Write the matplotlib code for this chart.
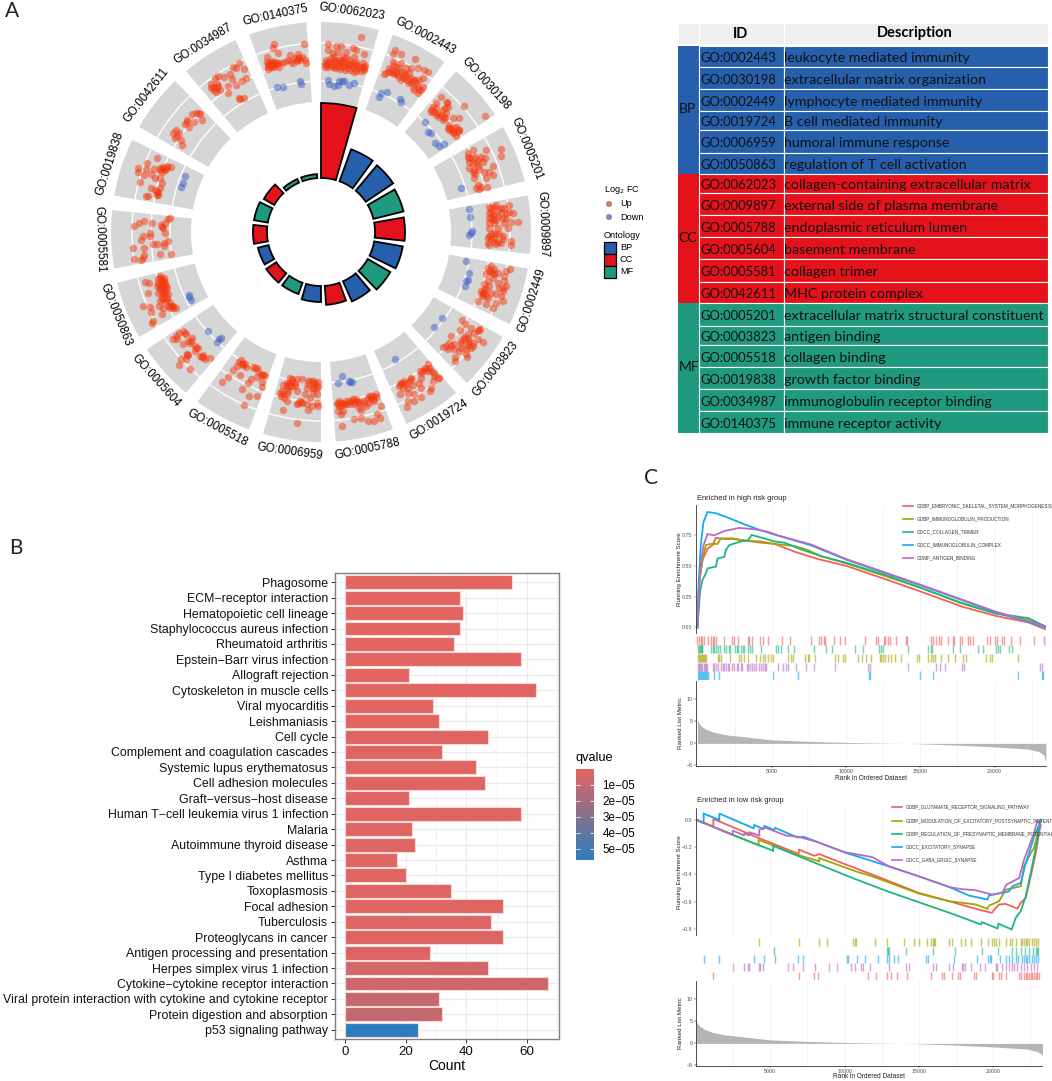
import numpy as np
import matplotlib
matplotlib.use('Agg')
import matplotlib.pyplot as plt
from matplotlib.patches import Wedge, Rectangle
from matplotlib.colors import LinearSegmentedColormap, Normalize
from matplotlib.cm import ScalarMappable

plt.rcParams['font.family'] = ['Liberation Sans', 'DejaVu Sans']

W, H = 1052, 1081

# panel A: terms clockwise from the top, bar height and ontology
go_ids = ['GO:0062023', 'GO:0002443', 'GO:0030198', 'GO:0005201', 'GO:0009897', 'GO:0002449',
          'GO:0003823', 'GO:0019724', 'GO:0005788', 'GO:0006959', 'GO:0005518', 'GO:0005604',
          'GO:0050863', 'GO:0005581', 'GO:0019838', 'GO:0042611', 'GO:0034987', 'GO:0140375']
go_height = [129, 88, 87, 85, 84, 83, 80, 76, 73, 70, 66, 66, 65, 68, 68, 66, 58, 58]
go_onto = ['CC', 'BP', 'BP', 'MF', 'CC', 'BP', 'MF', 'BP', 'CC', 'BP', 'MF', 'CC', 'BP', 'CC', 'MF', 'CC', 'MF', 'MF']

# gene points read per quadrant of the ring
up_nw = [(507,87),(503,99),(598,87),(520,113),(485,127),(580,118),(556,120),(490,150),(500,143),(510,140),(520,143),(530,145),
         (540,140),(548,135),(558,142),(570,130),(580,130),(590,125),(600,135),(604,145),(575,138),(490,162),(497,155),(510,152),
         (522,155),(500,137),(487,140),(492,143),(505,147),(565,145),(585,135),
         (495,148),(505,155),(515,148),(500,150),(490,155),(575,135),(582,128),
         (401,145),(383,157),(392,158),(418,163),(376,177),(338,182),(356,187),(330,190),(380,192),(424,188),(410,197),(392,210),
         (368,212),(318,208),(335,208),(340,212),(318,218),(328,225),(345,225),(332,232),(370,235),(405,252),(418,248),(402,250),
         (325,215),(335,220),
         (260,296),(273,295),(282,295),(285,297),(246,315),(291,315),(240,328),(252,335),(268,320),(245,322),(213,345),(203,355),
         (222,355),(209,370),(228,375),(232,390),(215,362),
         (156,430),(125,443),(100,460),(122,462),(98,470),(117,481),(148,462),(165,460),(175,455),(185,452),(197,455),(180,465),
         (170,470),(137,478),(150,490),(165,490),(105,500),(170,505),(137,518),(165,520),(160,530),(155,540),(128,543),(123,543),(150,525),
         (175,462),(185,460),(165,465),(155,530),(160,540),
         (190,612),(118,618),(103,625),(86,633),(142,625),(168,630),(180,625),(175,640),(170,635),(195,610)]
down_nw = [(515,215),(534,215),(585,198),(587,208),(239,482),(233,505),(229,515)]
up_sw = [(135,5),(115,15),(180,5),(108,28),(143,38),(155,38),(178,35),(190,30),(178,45),(85,52),(118,52),(165,68),(118,72),(115,80),
         (88,85),(108,88),(199,68),(135,15),
         (121,152),(133,155),(130,185),(176,140),(160,145),(170,150),(180,155),(165,160),(155,165),(175,170),(185,170),(165,175),
         (175,185),(190,190),(185,200),(180,210),(195,215),(205,225),(213,232),(195,232),(175,232),(163,225),(135,228),(113,225),
         (137,242),(172,250),(143,270),(142,276),(160,185),(170,200),(165,135),(190,225),(170,190),
         (165,140),(170,145),(178,150),(160,155),(170,160),(178,165),(165,168),(172,178),(180,180),(180,190),(185,205),(175,205),
         (165,210),(195,225),(200,225),(205,232),(175,158),(183,165),
         (235,300),(222,305),(242,308),(205,323),(217,325),(212,315),(235,338),(262,322),(250,330),(255,335),(270,345),(278,350),
         (247,368),(270,360),(285,375),(295,378),(300,385),(316,381),(242,385),(228,385),(223,402),(256,414),(250,372),
         (240,305),(258,330),(272,350),(290,378),(245,372),(295,372),
         (408,387),(410,400),(415,402),(423,407),(395,405),(385,418),(445,407),(455,412),(475,432),(460,420),(468,433),(455,437),
         (370,437),(352,452),(405,433),(437,445),(428,455),(470,452),(470,467),(412,475),(432,495),(455,496),(416,521),(480,432),
         (415,395),(420,400),(403,392),(450,410),(470,430),
         (555,440),(545,455),(560,450),(535,462),(575,445),(590,445),(610,450),(625,450),(640,452),(640,465),(545,470),(570,465),
         (605,470),(625,470),(575,480),(525,487),(528,495),(545,490),(625,485),(600,490),(615,500),(635,490),(538,500),(585,510),
         (590,517),(575,520),(545,510),(635,515),(620,525),(605,520),(638,525),(533,538),(610,537),(577,576),(555,465),(550,480),
         (610,460),(570,455),(628,460),
         (555,455),(545,462),(560,465),(618,450),(630,455),(535,490),(530,480),(590,512),(625,470),(635,470),(560,445),(580,515)]
down_sw = [(251,193),(258,207),(253,198),(309,300),(348,320),(343,325),(337,332)]
up_se = [(55,510),(65,515),(50,520),(60,525),(70,518),(85,510),(95,505),(105,503),(85,518),(100,518),(115,515),(125,510),(145,495),
         (155,495),(165,490),(150,505),(160,510),(130,515),(135,525),(145,515),(115,530),(120,537),(65,540),(60,548),(52,540),(180,525),
         (168,548),(177,560),(100,563),(120,562),(140,570),(158,570),(64,585),
         (60,515),(75,510),(90,510),(75,520),(95,512),(110,512),(150,495),(155,505),(165,497),(140,500),(55,525),(48,515),(105,510),
         (322,400),(310,415),(300,425),(320,420),(330,420),(340,425),(355,440),(335,450),(330,470),(300,440),(270,440),(250,450),
         (237,460),(245,470),(260,470),(275,462),(293,455),(300,472),(326,480),(238,490),(260,487),(280,490),(300,497),(260,510),
         (280,510),(258,528),(297,420),(240,455),(265,450),
         (315,410),(325,410),(305,420),(245,455),(255,460),(235,465),(270,445),(340,435),(350,440),
         (422,268),(432,280),(478,295),(470,300),(460,305),(450,290),(390,315),(418,298),(440,310),(430,318),(385,335),(400,340),
         (420,330),(440,330),(455,335),(470,325),(485,332),(365,347),(380,355),(400,355),(420,350),(440,345),(455,345),(415,360),
         (435,370),(437,378),(402,378),(402,390),(450,350),
         (430,325),(420,340),(440,320),(390,345),(375,345),(445,335),(435,355),(475,298),
         (510,105),(520,115),(530,125),(505,120),(568,115),(495,130),(515,140),(548,135),(555,120),(490,160),(530,155),(535,170),
         (545,180),(555,165),(490,185),(480,180),(470,210),(500,200),(510,185),(540,195),(495,220),(515,232),(525,215),(545,210),
         (485,195),(500,110),(550,150),
         (510,120),(520,130),(500,150),(505,165),(495,175),(490,175),(485,185),(495,195),(480,190),(515,125),(545,170),(525,190),
         (515,5),(505,15),(520,20),(545,15),(500,35),(530,33),(545,25),(570,30),(570,42),(505,42),(525,38),(540,35),
         (510,10),(525,10),(510,25),(520,32),(535,10),(500,20)]
down_se = [(64,436),(50,455),(83,450),(92,452),(88,452),(221,385),(364,262),(340,288),(436,90),(443,125),(435,150),(432,165),(440,148),(450,5),(445,12)]
up_ne = [(120,66),(20,88),(45,92),(60,93),(95,100),(105,105),(20,105),(35,115),(50,110),(75,110),(130,118),(100,125),(65,125),(40,125),
         (30,130),(15,150),(20,145),(30,150),(45,140),(55,135),(70,140),(85,135),(105,140),(125,145),(15,135),(130,160),(120,168),(110,160),
         (95,155),(80,160),(65,155),(50,155),(35,155),(100,170),(125,155),(75,130),(90,145),
         (12,145),(25,140),(40,148),(52,148),(60,145),(68,150),(78,148),(88,150),(98,148),(108,150),(118,155),(128,165),(132,152),(20,155),
         (42,160),(58,163),(72,165),(88,165),(105,168),(12,155),(38,135),(62,135),
         (222,105),(215,118),(240,118),(283,133),(215,140),(240,145),(205,160),(220,150),(255,160),(270,160),(290,160),(310,165),(320,172),
         (190,178),(205,172),(225,170),(240,170),(265,175),(230,185),(250,190),(260,195),(305,190),(295,195),(270,205),(290,215),(300,225),
         (290,235),(275,215),(285,205),(250,175),
         (195,175),(210,165),(215,178),(235,160),(225,155),(245,185),(255,180),(240,195),(262,205),(275,195),(280,225),(295,225),(305,215),
         (215,170),(228,178),(283,195),(270,190),
         (361,247),(377,262),(345,265),(380,275),(330,285),(345,280),(365,285),(330,290),(375,295),(429,272),(493,302),(355,305),(365,315),
         (345,300),(395,308),(415,310),(385,330),(405,335),(415,345),(385,345),(395,355),(405,362),(415,345),(370,305),
         (340,290),(352,295),(360,300),(372,310),(335,275),(382,340),(392,345),(400,350),(410,350),(378,265),(372,280),(388,338),(398,338),
         (455,405),(442,415),(495,405),(541,403),(440,425),(462,425),(480,425),(492,430),(540,423),(445,440),(465,445),(515,452),(445,460),
         (460,465),(475,462),(505,470),(460,490),(495,490),(515,480),(470,510),(480,515),(498,515),(465,520),(475,522),
         (445,430),(455,445),(470,452),(455,470),(462,478),(452,430),(470,435),(485,440),(490,470),
         (525,570),(565,570),(510,580),(530,585),(550,578),(505,595),(510,610),(530,605),(555,595),(575,595),(505,625),(520,625),(570,620),
         (590,622),(545,610),(530,640),(560,640),(505,640),(515,600),(540,595),
         (510,590),(520,600),(505,610),(515,615),(525,615),(505,575),(520,575),(540,580),(565,590),(555,610),(548,625)]
down_ne = [(20,195),(25,208),(40,212),(55,197),(62,197),(70,198),(85,210),(98,205),(50,210),(199,232),(180,235),(173,245),(236,252),(240,262),
           (312,322),(322,351),(330,355),(341,384),(355,392),(368,388),(421,519),(444,582),(448,607),(452,648)]

# table
table_bp_ids = ['GO:0002443', 'GO:0030198', 'GO:0002449', 'GO:0019724', 'GO:0006959', 'GO:0050863']
table_bp_desc = ['leukocyte mediated immunity', 'extracellular matrix organization', 'lymphocyte mediated immunity',
                 'B cell mediated immunity', 'humoral immune response', 'regulation of T cell activation']
table_cc_ids = ['GO:0062023', 'GO:0009897', 'GO:0005788', 'GO:0005604', 'GO:0005581', 'GO:0042611']
table_cc_desc = ['collagen-containing extracellular matrix', 'external side of plasma membrane', 'endoplasmic reticulum lumen',
                 'basement membrane', 'collagen trimer', 'MHC protein complex']
table_mf_ids = ['GO:0005201', 'GO:0003823', 'GO:0005518', 'GO:0019838', 'GO:0034987', 'GO:0140375']
table_mf_desc = ['extracellular matrix structural constituent', 'antigen binding', 'collagen binding',
                 'growth factor binding', 'immunoglobulin receptor binding', 'immune receptor activity']

# panel B
kegg_terms = ['Phagosome', 'ECM\u2212receptor interaction', 'Hematopoietic cell lineage', 'Staphylococcus aureus infection',
              'Rheumatoid arthritis', 'Epstein\u2212Barr virus infection', 'Allograft rejection', 'Cytoskeleton in muscle cells',
              'Viral myocarditis', 'Leishmaniasis', 'Cell cycle', 'Complement and coagulation cascades',
              'Systemic lupus erythematosus', 'Cell adhesion molecules', 'Graft\u2212versus\u2212host disease',
              'Human T\u2212cell leukemia virus 1 infection', 'Malaria', 'Autoimmune thyroid disease', 'Asthma',
              'Type I diabetes mellitus', 'Toxoplasmosis', 'Focal adhesion', 'Tuberculosis', 'Proteoglycans in cancer',
              'Antigen processing and presentation', 'Herpes simplex virus 1 infection',
              'Cytokine\u2212cytokine receptor interaction', 'Viral protein interaction with cytokine and cytokine receptor',
              'Protein digestion and absorption', 'p53 signaling pathway']
kegg_count = [55, 38, 39, 38, 36, 58, 21, 63, 29, 31, 47, 32, 43, 46, 21, 58, 22, 23, 17, 20, 35, 52, 48, 52, 28, 47, 67, 31, 32, 24]
kegg_q = [1e-8, 5e-7, 5e-7, 8e-7, 8e-7, 9e-7, 9e-7, 1e-6, 1e-6, 1.1e-6, 1.2e-6, 1.3e-6, 1.5e-6, 1.6e-6, 1.6e-6,
          1.7e-6, 1.8e-6, 1.8e-6, 1.9e-6, 2e-6, 2e-6, 2.2e-6, 2.3e-6, 2.5e-6, 3e-6, 6e-6, 7e-6, 9e-6, 1e-5, 5.69e-5]

# panel C, high risk group
hi_names = ['GOBP_EMBRYONIC_SKELETAL_SYSTEM_MORPHOGENESIS', 'GOBP_IMMUNOGLOBULIN_PRODUCTION', 'GOCC_COLLAGEN_TRIMER',
            'GOCC_IMMUNOGLOBULIN_COMPLEX', 'GOMF_ANTIGEN_BINDING']
hi_red_x = [0,112,337,675,1012,1237,1690,2475,3375,4275,5175,6525,8100,10050,12825,15075,17775,20025,22275,23400]
hi_red_y = [0,.36,.55,.64,.67,.73,.72,.72,.705,.69,.68,.617,.557,.50,.385,.29,.17,.095,.04,-.015]
hi_olive_x = [0,112,337,562,900,1350,1575,2360,3150,4275,5175,6525,7425,8325,10050,12825,15075,17775,20025,22275,23450]
hi_olive_y = [0,.385,.55,.67,.68,.68,.725,.725,.705,.70,.68,.663,.63,.58,.52,.41,.32,.195,.115,.06,.005]
hi_green_x = [0,180,337,562,675,1237,1350,1800,1912,2137,2925,3420,3645,4500,5175,5850,6975,8325,10050,12825,15075,17775,20025,22275,23450]
hi_green_y = [0,.30,.385,.44,.48,.495,.56,.575,.63,.67,.70,.71,.753,.725,.70,.69,.635,.58,.525,.42,.32,.20,.115,.075,.005]
hi_blue_x = [0,68,225,405,675,1240,2025,3150,4275,5060,7650,10050,15075,20025,23450]
hi_blue_y = [0,.33,.68,.86,.94,.93,.895,.84,.79,.76,.668,.55,.34,.125,0]
hi_purple_x = [0,180,405,675,1125,1800,2800,3825,4725,5400,7650,10050,15075,20025,23400]
hi_purple_y = [0,.47,.67,.76,.75,.785,.81,.80,.78,.75,.675,.555,.345,.13,.01]
hi_rug_red = [0,112,225,337,450,675,900,1012,1125,1237,1800,2295,2430,2745,3375,3487,3645,4230,4387,4770,5670,6255,7650,8212,8325,8505,8595,
              9180,9562,9945,11250,11992,12150,12555,12645,12825,12937,13342,14062,14130,15705,15862,16087,16245,16425,16875,17167,17280,17662,
              17775,18180,18337,18562,19462,19687,20025,20137,20475,20655,21105,21712,22680,23355,23445]
hi_rug_green = [68,120,180,240,292,337,900,1012,1125,1237,1350,1530,1800,1912,2137,2205,2520,2655,2745,2925,3037,3150,3420,3555,3645,4275,5287,
                5445,5625,6075,6480,7875,8662,9045,10575,11137,12195,12330,12487,14175,15525,15705,15795,17212,17662,18900,19237,20070,20205,
                20362,20970,21195]
hi_rug_olive = [45,110,180,250,315,380,450,510,562,1350,1462,1575,2205,2812,2925,3150,3420,3937,4207,4387,4545,4725,4950,5062,6075,6300,6412,7245,7425,
                7537,7920,9225,9450,9787,9900,10800,11092,11362,11655,12262,12375,12487,12600,12825,13050,13320,13680,14805,14895,15525,15705,
                15862,16020,16425,16875,17325,17887,18045,19395,19687,19800,21555]
hi_rug_purple = [45,110,180,260,337,420,495,560,630,1012,1125,1237,1395,1575,1687,1800,1912,2025,2137,2295,2475,2655,2745,2925,2992,3330,3420,3555,3645,
                 3780,3937,4162,4275,4387,4545,4612,5400,5737,5962,6120,6637,7312,7875,9225,11475,11587,14175,16087,16312,16650,17820,17955,23062,23175]
hi_rug_blue = [45,110,180,250,315,380,450,520,585,630,675,1125,1462,5062,6750,11520,11587,14962,15862,21555,23175,23287]

# panel C, low risk group
lo_names = ['GOBP_GLUTAMATE_RECEPTOR_SIGNALING_PATHWAY', 'GOBP_MODULATION_OF_EXCITATORY_POSTSYNAPTIC_POTENTIAL',
            'GOBP_REGULATION_OF_PRESYNAPTIC_MEMBRANE_POTENTIAL', 'GOCC_EXCITATORY_SYNAPSE', 'GOCC_GABA_ERGIC_SYNAPSE']
lo_red_x = [0,1166,1166,4260,6905,6950,7960,8295,10020,11880,15020,16815,18830,19910,20180,20400,20850,21635,21860,22195,22530,22870,23090,23200]
lo_red_y = [0,-.051,.005,-.136,-.25,-.22,-.264,-.252,-.325,-.402,-.536,-.589,-.652,-.681,-.645,-.62,-.616,-.65,-.608,-.572,-.415,-.245,-.1,-.039]
lo_olive_x = [0,4215,4215,6840,8295,8295,10760,11880,15020,17040,18830,19620,19730,20400,20850,21860,22080,22530,22755,23090,23200]
lo_olive_y = [0,-.187,-.148,-.257,-.305,-.281,-.378,-.415,-.541,-.596,-.62,-.652,-.628,-.596,-.512,-.487,-.342,-.245,-.208,-.051,-.002]
lo_green_x = [0,2466,5200,5200,10540,13000,17375,19170,19240,20290,20360,21255,21520,21860,22195,22530,22755,22980,23160]
lo_green_y = [0,-.112,-.228,-.192,-.427,-.528,-.693,-.766,-.749,-.795,-.761,-.802,-.718,-.669,-.56,-.39,-.269,-.148,-.015]
lo_blue_x = [0,516,516,1570,1570,3880,3920,4550,4600,5270,5335,6840,7220,10020,13000,15020,17040,18385,19620,19730,20400,21075,21300,21860,22195,22420,22755,23090,23230]
lo_blue_y = [0,-.027,.044,-.002,.044,-.063,-.039,-.07,-.046,-.075,-.06,-.131,-.124,-.24,-.342,-.415,-.492,-.555,-.584,-.553,-.54,-.524,-.487,-.463,-.318,-.245,-.124,-.039,-.002]
lo_purple_x = [0,2466,2466,3250,3250,3587,3587,4260,4260,4600,6050,6840,8070,10020,11880,13000,15020,17040,17820,18830,19950,20630,20900,21750,22080,22420,22755,22980,23200]
lo_purple_y = [0,-.112,-.08,-.116,-.1,-.116,-.092,-.116,-.075,-.056,-.116,-.124,-.16,-.238,-.274,-.342,-.415,-.492,-.507,-.516,-.548,-.531,-.475,-.427,-.293,-.196,-.1,-.002,-.05]
lo_rug_olive = [4215,6905,8250,8790,10600,10670,10760,12060,12890,13970,14680,14980,15540,15850,15920,16000,16090,17040,17265,17825,18110,18500,19215,19665,
                19950,20065,20220,20400,20900,21120,21300,21520,21860,21970,22080,22195,22310,22420,22600,22755,22915,23045]
lo_rug_green = [5225,12825,12935,13000,14150,15920,17420,19240,20360,21255,21570,21860,22150,22420,22690,22870,22980,23045]
lo_rug_blue = [516,1570,3920,4550,5310,6860,7220,10135,10245,10810,11390,12265,12890,13000,13340,13565,15515,15605,17350,18945,19685,19775,19865,20450,
               20850,21075,21255,21520,21700,21925,22080,22195,22310,22420,22600,22755,22870,23045]
lo_rug_purple = [2510,3250,3475,3587,4215,4325,4485,6165,6500,7220,8025,8970,9460,10425,10695,11100,11210,11700,13000,14125,14350,15920,16145,17040,17310,
                 17890,18000,18110,18500,19100,19460,20180,20290,20630,20850,21075,21255,21410,21635,21860,22080,22310,22530,22755,22980]
lo_rug_red = [1166,6905,7915,8230,11590,12110,12850,13115,13520,14170,15805,16590,16660,17265,17645,17755,18720,18830,19910,20020,20400,20510,20850,21750,
              21860,22080,22195,22310,22420,22530,22645,22755,22870,22980,23090]

metric_rank = [0,60,225,562,1125,2025,3150,5000,7500,10000,12500,14000,15000,17500,20000,22275,23000,23300,23450]
metric_val = [5.6,4.8,4,3.2,2.5,1.9,1.5,.8,.45,.22,.06,0,-.1,-.4,-.8,-1.3,-1.9,-2.6,-4.2]

onto_colors = {'BP': '#2660AC', 'CC': '#E3121B', 'MF': '#1F9A7F'}
red, olive, green, blue, purple = '#F0605D', '#A3A500', '#1DB67C', '#14A8F0', '#B96BC2'


def px_axes(x0, y0, x1, y1):
    return fig.add_axes([x0 / W, 1 - y1 / H, (x1 - x0) / W, (y1 - y0) / H])


fig = plt.figure(figsize=(W / 100, H / 100), dpi=100)

# ---- A: ring ----
ax = px_axes(0, 0, 660, 470)
ax.set_xlim(-321, 339)
ax.set_ylim(232 - 470, 232)
ax.axis('off')
for i, name in enumerate(go_ids):
    a1 = 20 * i
    a2 = a1 + 16
    ax.add_patch(Wedge((0, 0), 210, 90 - a2, 90 - a1, width=80, fc='#D6D6D6', ec='none'))
    for r in [151, 170, 189]:
        ax.add_patch(Wedge((0, 0), r + 0.7, 90 - a2, 90 - a1, width=1.4, fc='white', ec='none'))
    ax.add_patch(Wedge((0, 0), go_height[i], 90 - a2, 90 - a1, width=go_height[i] - 54,
                       fc=onto_colors[go_onto[i]], ec='black', lw=1.3))
    mid = np.radians(a1 + 8)
    rot = -(a1 + 8)
    if 90 < a1 + 8 < 270:
        rot = 180 - (a1 + 8)
    ax.text(222 * np.sin(mid), 222 * np.cos(mid), name, rotation=rot, rotation_mode='anchor',
            ha='center', va='center', fontsize=8.4)


def ring_scatter(points, ox, oy, color):
    pts = np.array(points, dtype=float)
    ax.scatter((pts[:, 0] - ox) / 3, (oy - pts[:, 1]) / 3, s=29, color=color, alpha=0.5, linewidths=0, zorder=3)


for pts, ox, oy in [(up_nw, 648, 651), (up_ne, 0, 651), (up_sw, 648, 3), (up_se, 0, 3)]:
    ring_scatter(pts, ox, oy, '#F43A10')
for pts, ox, oy in [(down_nw, 648, 651), (down_ne, 0, 651), (down_sw, 648, 3), (down_se, 0, 3)]:
    ring_scatter(pts, ox, oy, '#3D62C4')

# ---- A: table ----
tb = px_axes(660, 0, 1052, 450)
tb.set_xlim(660, 1052)
tb.set_ylim(450, 0)
tb.axis('off')
col_edges = [678, 699, 783.5, 1048]
row_edges = [46, 67, 89, 111, 130, 153, 174, 193, 215, 237, 259, 282, 303, 326, 345, 367, 389, 411, 433]
for j in range(3):
    tb.add_patch(Rectangle((col_edges[j], 23), col_edges[j + 1] - col_edges[j], 21, fc='#F0F0F0', ec='white', lw=0.8))
tb.text(741, 33.5, 'ID', ha='center', va='center', fontsize=10.5, fontweight='bold', family='Lato')
tb.text(915, 33.5, 'Description', ha='center', va='center', fontsize=10.5, fontweight='bold', family='Lato')
groups = [('BP', table_bp_ids, table_bp_desc, 0), ('CC', table_cc_ids, table_cc_desc, 6), ('MF', table_mf_ids, table_mf_desc, 12)]
for onto, ids, descs, start in groups:
    top, bottom = row_edges[start], row_edges[start + 6]
    tb.add_patch(Rectangle((col_edges[0], top), col_edges[1] - col_edges[0], bottom - top,
                           fc=onto_colors[onto], ec='none'))
    tb.text(678.5, (top + bottom) / 2 - 1, onto, ha='left', va='center', fontsize=10, family='Lato', color='#111111')
    for k in range(6):
        y0, y1 = row_edges[start + k], row_edges[start + k + 1]
        tb.add_patch(Rectangle((col_edges[1], y0), col_edges[2] - col_edges[1], y1 - y0, fc=onto_colors[onto], ec='white', lw=0.8))
        tb.add_patch(Rectangle((col_edges[2], y0), col_edges[3] - col_edges[2], y1 - y0, fc=onto_colors[onto], ec='white', lw=0.8))
        tb.text(700, (y0 + y1) / 2 + 1.5, ids[k], ha='left', va='center', fontsize=9.35, family='Lato', color='#111111')
        tb.text(784.5, (y0 + y1) / 2 + 1.5, descs[k], ha='left', va='center', fontsize=10.25, family='Lato', color='#111111')

# ---- B: bars ----
cmap = LinearSegmentedColormap.from_list('q', ['#E4645F', '#2C7DBF'])
norm = Normalize(0, 5.69e-5)
bx = px_axes(335, 573, 558.5, 1039)
ypos = np.arange(len(kegg_terms))
bx.barh(ypos, kegg_count, height=0.9, color=cmap(norm(kegg_q)), edgecolor='#F7DAD8', linewidth=0.8, zorder=3)
bx.set_ylim(29.6, -0.6)
bx.set_xlim(-3.35, 70.35)
bx.set_yticks(ypos, kegg_terms, fontsize=8.95, color='#111111')
bx.set_xticks([0, 20, 40, 60], ['0', '20', '40', '60'], fontsize=9.6, color='#111111')
bx.set_xticks([10, 30, 50, 70], minor=True)
bx.grid(True, which='major', color='#EBEBEB', lw=0.9, zorder=0)
bx.grid(True, which='minor', axis='x', color='#EBEBEB', lw=0.5, zorder=0)
bx.tick_params(axis='both', which='major', length=3, width=0.7, color='#333333', pad=2)
bx.tick_params(axis='x', which='minor', length=0)
for sp in bx.spines.values():
    sp.set_color('#808080')
    sp.set_linewidth(1)
bx.set_xlabel('Count', fontsize=10, labelpad=0.5)

cax = px_axes(576, 769, 594, 860)
cb = fig.colorbar(ScalarMappable(norm=norm, cmap=cmap), cax=cax)
cb.outline.set_visible(False)
q_ticks = [1e-5, 2e-5, 3e-5, 4e-5, 5e-5]
cb.set_ticks(q_ticks, labels=['1e\u221205', '2e\u221205', '3e\u221205', '4e\u221205', '5e\u221205'])
cax.tick_params(length=0, labelsize=8.4, pad=6)
cax.invert_yaxis()
cax.hlines(q_ticks, 0, 0.2, colors='white', lw=0.6)
cax.hlines(q_ticks, 0.8, 1, colors='white', lw=0.6)


# ---- C: GSEA panels ----
def gsea(top, run_bottom, rug_bottom, bottom, x0, x1, xlim, ylim, yticks, ylabels, curves, rugs, metric_ylim):
    gx = px_axes(x0, top, x1, run_bottom)
    for x, y, c in curves:
        gx.plot(x, y, color=c, lw=1.3, solid_joinstyle='miter')
    gx.set_xlim(*xlim)
    gx.set_ylim(*ylim)
    gx.set_xticks(np.arange(2500, 23000, 2500))
    gx.grid(True, axis='x', color='#EDEDED', lw=0.5, zorder=0)
    gx.set_axisbelow(True)
    gx.tick_params(axis='x', length=0, labelbottom=False)
    gx.set_yticks(yticks, ylabels, fontsize=3.8, color='#4D4D4D')
    gx.tick_params(axis='y', length=1.5, width=0.3, pad=1, color='#555555')
    for s in ['top', 'right', 'bottom']:
        gx.spines[s].set_visible(False)
    gx.spines['left'].set_linewidth(0.6)
    gx.spines['left'].set_color('#333333')

    rx = px_axes(x0, run_bottom + 3, x1, rug_bottom)
    for row, (pos, c) in enumerate(rugs):
        rx.vlines(pos, row + 0.02, row + 0.98, color=c, lw=1.05, alpha=0.6)
    rx.set_xlim(*xlim)
    rx.set_ylim(5, 0)
    rx.axis('off')

    mx = px_axes(x0, rug_bottom + 1, x1, bottom)
    mx.fill_between(metric_rank, metric_val, 0, color='#B5B5B5', lw=0)
    mx.set_xlim(*xlim)
    mx.set_ylim(*metric_ylim)
    mx.set_xticks([5000, 10000, 15000, 20000], ['5000', '10000', '15000', '20000'], fontsize=3.8, color='#4D4D4D')
    mx.set_xticks(np.arange(2500, 23000, 5000), minor=True)
    mx.grid(True, which='both', axis='x', color='#EDEDED', lw=0.5)
    mx.set_axisbelow(True)
    mx.tick_params(axis='x', which='major', length=1.5, width=0.3, pad=1)
    mx.tick_params(axis='x', which='minor', length=0)
    mx.set_yticks([-5, 0, 5, 10], ['\u22125', '0', '5', '10'], fontsize=3.8, color='#4D4D4D')
    mx.tick_params(axis='y', length=1.5, width=0.3, pad=1)
    for s in ['top', 'right']:
        mx.spines[s].set_visible(False)
    for s in ['left', 'bottom']:
        mx.spines[s].set_linewidth(0.6)
        mx.spines[s].set_color('#333333')


gsea(505, 633, 680, 766, 696, 1046, (-100, 23460), (-0.046, 0.997), [0, .25, .5, .75],
     ['0.00', '0.25', '0.50', '0.75'],
     [(hi_red_x, hi_red_y, red), (hi_olive_x, hi_olive_y, olive), (hi_green_x, hi_green_y, green),
      (hi_blue_x, hi_blue_y, blue), (hi_purple_x, hi_purple_y, purple)],
     [(hi_rug_red, red), (hi_rug_green, green), (hi_rug_olive, olive), (hi_rug_purple, purple), (hi_rug_blue, blue)],
     (-5.15, 14.2))
gsea(808, 935, 980, 1066, 696, 1042, (0, 23290), (-0.843, 0.085), [0, -.2, -.4, -.6, -.8],
     ['0.0', '\u22120.2', '\u22120.4', '\u22120.6', '\u22120.8'],
     [(lo_red_x, lo_red_y, red), (lo_olive_x, lo_olive_y, olive), (lo_green_x, lo_green_y, green),
      (lo_blue_x, lo_blue_y, blue), (lo_purple_x, lo_purple_y, purple)],
     [(lo_rug_olive, olive), (lo_rug_green, green), (lo_rug_blue, blue), (lo_rug_purple, purple), (lo_rug_red, red)],
     (-5.15, 14.2))

# ---- text and legends in figure pixels ----
ov = px_axes(0, 0, W, H)
ov.axis('off')
ov.patch.set_alpha(0)
for letter, x, y in [('A', 12, 11), ('B', 16, 548), ('C', 651, 478)]:
    ov.text(x, y, letter, ha='center', va='center', fontsize=15, family='Lato', color='#222222')

ov.text(604, 190, 'Log$_2$ FC', fontsize=6.6, va='center')
ov.scatter([609, 609], [204, 217], s=16, color=['#E8725A', '#7C8CC8'], edgecolors='#888888', linewidths=0.4)
ov.text(620, 204, 'Up', fontsize=6.6, va='center')
ov.text(620, 217, 'Down', fontsize=6.6, va='center')
ov.text(604, 235, 'Ontology', fontsize=6.6, va='center')
for name, y in [('BP', 248), ('CC', 260), ('MF', 272)]:
    ov.add_patch(Rectangle((604, y - 6), 12, 12, fc=onto_colors[name], ec='black', lw=0.9))
    ov.text(620, y, name, fontsize=6.6, va='center')

ov.text(576, 758, 'qvalue', fontsize=9.2, va='center')

ov.text(697, 499, 'Enriched in high risk group', fontsize=5.4, va='center', color='#222222')
ov.text(697, 801, 'Enriched in low risk group', fontsize=5.4, va='center', color='#222222')
ov.text(680, 569, 'Running Enrichment Score', rotation=90, fontsize=4.5, ha='center', va='center', color='#222222')
ov.text(680, 872, 'Running Enrichment Score', rotation=90, fontsize=4.5, ha='center', va='center', color='#222222')
ov.text(680, 723, 'Ranked List Metric', rotation=90, fontsize=4.5, ha='center', va='center', color='#222222')
ov.text(680, 1023, 'Ranked List Metric', rotation=90, fontsize=4.5, ha='center', va='center', color='#222222')
ov.text(871, 778, 'Rank in Ordered Dataset', fontsize=4.7, ha='center', va='center', color='#222222')
ov.text(869, 1077, 'Rank in Ordered Dataset', fontsize=4.7, ha='center', va='center', color='#222222')

for name, c, y in zip(hi_names, [red, olive, green, blue, purple], [505.7, 519, 532, 545, 558]):
    ov.plot([903, 913], [y, y], color=c, lw=1.2)
    ov.text(917, y, name, fontsize=3.3, va='center', color='#333333')
for name, c, y in zip(lo_names, [red, olive, green, blue, purple], [807.3, 820.7, 833.7, 846.7, 860]):
    ov.plot([892, 902], [y, y], color=c, lw=1.2)
    ov.text(906, y, name, fontsize=3.3, va='center', color='#333333')
ov.set_xlim(0, W)
ov.set_ylim(H, 0)

fig.savefig('out.png', dpi=100)
